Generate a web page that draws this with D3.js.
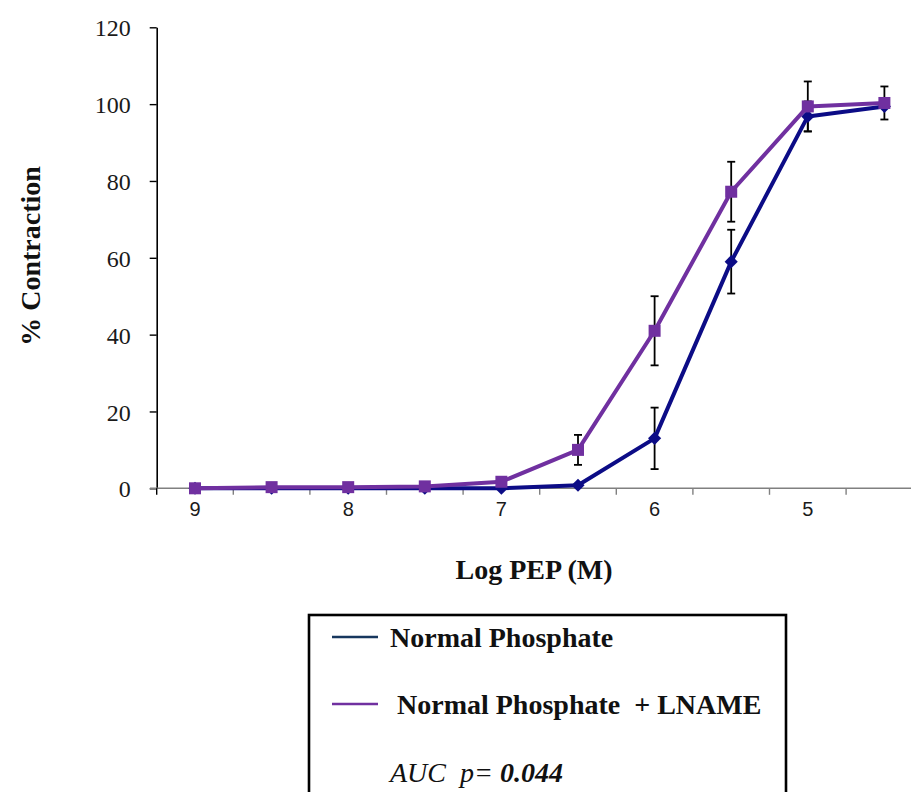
<!DOCTYPE html>
<html>
<head>
<meta charset="utf-8">
<script src="https://cdn.jsdelivr.net/npm/d3@7"></script>
<style>
  html, body { margin: 0; padding: 0; background: #fff; }
  svg { display: block; }
</style>
</head>
<body>
<svg id="chart" width="911" height="792"></svg>
<script>
// Log PEP concentration categories (half-log steps) and their axis labels
const categories = ["9", "8.5", "8", "7.5", "7", "6.5", "6", "5.5", "5", "4.5"];
const tickLabels = ["9", "", "8", "", "7", "", "6", "", "5", ""];
const yTicks = [0, 20, 40, 60, 80, 100, 120];

// % contraction, mean and SEM
const normalMean = [0, 0, 0, 0, 0, 0.8, 13, 59, 96.8, 99.4];
const normalSem  = [0, 0, 0, 0, 0, 0, 8, 8.3, 3.9, 0];
const lnameMean  = [0, 0.3, 0.3, 0.5, 1.7, 10, 41, 77.2, 99.4, 100.3];
const lnameSem   = [0, 0, 0, 0, 0, 3.9, 9, 7.8, 6.5, 4.3];

const seriesNames = ["Normal Phosphate", "Normal Phosphate  + LNAME"];

const SERIF = "Liberation Serif";
const SANS = "Liberation Sans";

const svg = d3.select("#chart");

const x = d3.scaleBand().domain(categories).range([156.7, 922.7]).padding(0);
const y = d3.scaleLinear().domain([0, 120]).range([488.3, 27.3]);

// Y axis (black, ticks on the left)
const yAxis = svg.append("g")
  .attr("transform", "translate(156.7,0)")
  .call(d3.axisLeft(y).tickValues(yTicks).tickSize(7).tickPadding(19).tickSizeOuter(0));
yAxis.select(".domain").attr("stroke", "#000").attr("stroke-width", 1.6);
yAxis.selectAll(".tick line").attr("stroke", "#000").attr("stroke-width", 1.4);
yAxis.selectAll(".tick text")
  .attr("font-family", SERIF)
  .attr("font-size", 24).attr("fill", "#1a1a1a").attr("dy", "0.36em");

// X axis (grey line, tick marks between categories)
const xAxis = svg.append("g")
  .attr("transform", `translate(0,${y(0)})`)
  .call(d3.axisBottom(x).tickSize(0).tickPadding(14).tickFormat((d, i) => tickLabels[i]));
xAxis.select(".domain").remove();
xAxis.selectAll(".tick text")
  .attr("font-family", SANS)
  .attr("font-size", 20).attr("fill", "#1a1a1a").attr("dy", "0.71em");

svg.append("line")
  .attr("x1", 150).attr("x2", 911)
  .attr("y1", y(0)).attr("y2", y(0))
  .attr("stroke", "#808080").attr("stroke-width", 1.6);

svg.append("g").selectAll("line")
  .data(categories)
  .join("line")
  .attr("x1", d => x(d)).attr("x2", d => x(d))
  .attr("y1", y(0)).attr("y2", y(0) + 6.5)
  .attr("stroke", d => d === categories[0] ? "#000" : "#808080")
  .attr("stroke-width", 1.4);

// Axis titles
svg.append("text")
  .attr("transform", "translate(40,256) rotate(-90)")
  .attr("text-anchor", "middle")
  .attr("font-family", SERIF)
  .attr("font-weight", "bold").attr("font-size", 28).attr("fill", "#111")
  .text("% Contraction");

svg.append("text")
  .attr("x", 534).attr("y", 579)
  .attr("text-anchor", "middle")
  .attr("font-family", SERIF)
  .attr("font-weight", "bold").attr("font-size", 28).attr("fill", "#111")
  .text("Log PEP (M)");

const cx = d => x(d) + x.bandwidth() / 2;

function drawErrors(mean, sem) {
  const g = svg.append("g").attr("stroke", "#000").attr("stroke-width", 1.8);
  categories.forEach((c, i) => {
    if (!sem[i]) return;
    const xc = cx(c), top = y(mean[i] + sem[i]), bot = y(mean[i] - sem[i]);
    g.append("line").attr("x1", xc).attr("x2", xc).attr("y1", top).attr("y2", bot);
    g.append("line").attr("x1", xc - 4).attr("x2", xc + 4).attr("y1", top).attr("y2", top);
    g.append("line").attr("x1", xc - 4).attr("x2", xc + 4).attr("y1", bot).attr("y2", bot);
  });
}

const line = d3.line().x((d, i) => cx(categories[i])).y(d => y(d));

drawErrors(normalMean, normalSem);
drawErrors(lnameMean, lnameSem);

// Normal Phosphate: navy line with diamonds
const navy = "#0c0c86";
svg.append("path").datum(normalMean)
  .attr("d", line).attr("fill", "none").attr("stroke", navy)
  .attr("stroke-width", 4).attr("stroke-linejoin", "round");
svg.append("g").selectAll("path")
  .data(normalMean)
  .join("path")
  .attr("d", d3.symbol(d3.symbolDiamond2, 110))
  .attr("transform", (d, i) => `translate(${cx(categories[i])},${y(d)})`)
  .attr("fill", navy);

// Normal Phosphate + LNAME: purple line with squares
const purple = "#7030a0";
svg.append("path").datum(lnameMean)
  .attr("d", line).attr("fill", "none").attr("stroke", purple)
  .attr("stroke-width", 4).attr("stroke-linejoin", "round");
svg.append("g").selectAll("rect")
  .data(lnameMean)
  .join("rect")
  .attr("x", (d, i) => cx(categories[i]) - 6)
  .attr("y", d => y(d) - 6)
  .attr("width", 12).attr("height", 12)
  .attr("fill", purple);

// Legend box
const legend = svg.append("g");
legend.append("rect")
  .attr("x", 309).attr("y", 615).attr("width", 477).attr("height", 200)
  .attr("fill", "#fff").attr("stroke", "#000").attr("stroke-width", 2.6);

const legendColors = ["#17375e", purple];
const legendRows = [
  { y: 637, tx: 390, ty: 647 },
  { y: 704, tx: 397, ty: 714 }
];
legendRows.forEach((r, i) => {
  legend.append("line")
    .attr("x1", 332).attr("x2", 378).attr("y1", r.y).attr("y2", r.y)
    .attr("stroke", legendColors[i]).attr("stroke-width", 2.6);
  legend.append("text")
    .attr("x", r.tx).attr("y", r.ty)
    .attr("font-family", SERIF)
    .attr("font-weight", "bold").attr("font-size", 28).attr("fill", "#111")
    .style("white-space", "pre")
    .text(seriesNames[i]);
});

const stat = legend.append("text")
  .attr("x", 390).attr("y", 782)
  .attr("font-family", SERIF)
  .attr("font-style", "italic").attr("font-size", 28).attr("fill", "#111")
  .style("white-space", "pre");
stat.append("tspan").text("AUC  p= ");
stat.append("tspan").attr("font-weight", "bold").text("0.044");
</script>
</body>
</html>
